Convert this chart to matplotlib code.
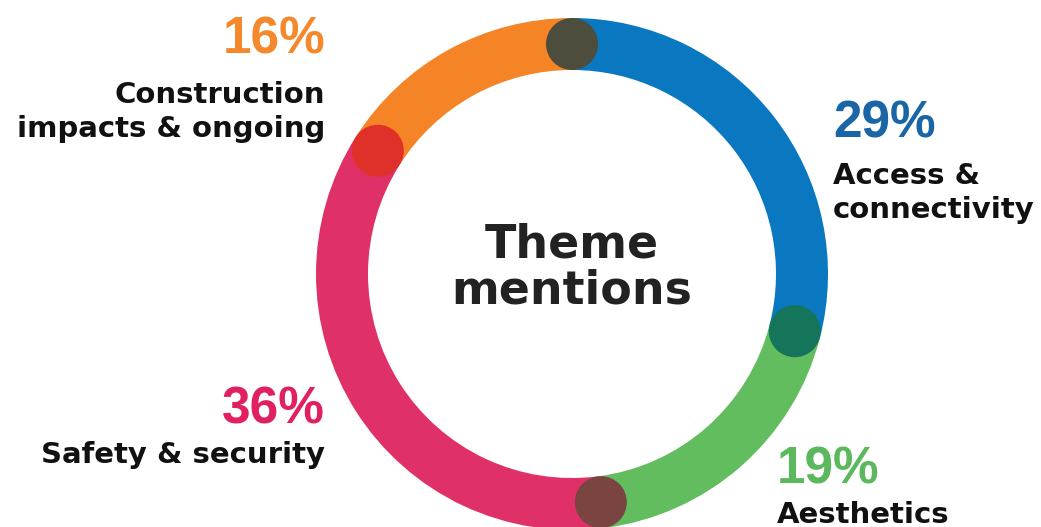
import matplotlib
matplotlib.use('Agg')
import matplotlib.pyplot as plt
import numpy as np
from matplotlib.patches import Circle

# data
themes = ['Access &\nconnectivity', 'Aesthetics', 'Safety & security', 'Construction\nimpacts & ongoing']
shares = [29, 19, 36, 16]
ring_colors = ['#0a78c1', '#62bd5f', '#e03068', '#f58426']
pct_colors = ['#1a65a5', '#5cb85c', '#e02060', '#f5882a']
dot_colors = ['#4d4d3d', '#15755a', '#7a4540', '#e0302a']  # dot at the start of each slice
center_title = 'Theme\nmentions'

plt.rcParams['font.family'] = ['Liberation Sans', 'DejaVu Sans']

W, H = 1041, 527
fig = plt.figure(figsize=(W / 100, H / 100), dpi=100)
ax = fig.add_axes([0, 0, 1, 1])

cx, cy = 572, H - 274
r_out, ring_w = 256, 52

wedges, _ = ax.pie(shares, colors=ring_colors, startangle=90, counterclock=False,
                   center=(cx, cy), radius=r_out,
                   wedgeprops=dict(width=ring_w, linewidth=0))

# dots on slice boundaries
r_mid = r_out - ring_w / 2
starts = np.concatenate([[0], np.cumsum(shares)[:-1]]) / sum(shares)
for frac, col in zip(starts, dot_colors):
    ang = np.deg2rad(90 - 360 * frac)
    ax.add_patch(Circle((cx + r_mid * np.cos(ang), cy + r_mid * np.sin(ang)),
                        26, color=col, linewidth=0, zorder=3))

# labels: (x, ha, pct baseline, first line baseline) in pixels from top
label_pos = [(833, 'left', 137, 184),
             (777, 'left', 483, 523),
             (325, 'right', 423, 463),
             (325, 'right', 54, 103)]
for name, val, pc, (x, ha, yp, yl) in zip(themes, shares, pct_colors, label_pos):
    ax.text(x, H - yp, f'{val}%', color=pc, fontsize=37, fontweight='bold',
            ha=ha, va='baseline')
    for i, line in enumerate(name.split('\n')):
        ax.text(x, H - yl - 34 * i, line, color='#111111', fontsize=21,
                family='DejaVu Sans', fontweight='bold', ha=ha, va='baseline')

for i, line in enumerate(center_title.split('\n')):
    ax.text(572, H - 258 - 45 * i, line, color='#222222', fontsize=33,
            family='DejaVu Sans', fontweight='bold', ha='center', va='baseline')

ax.set_xlim(0, W)
ax.set_ylim(0, H)
ax.set_aspect('equal')
ax.axis('off')

fig.savefig('out.png', dpi=100, facecolor='white')
